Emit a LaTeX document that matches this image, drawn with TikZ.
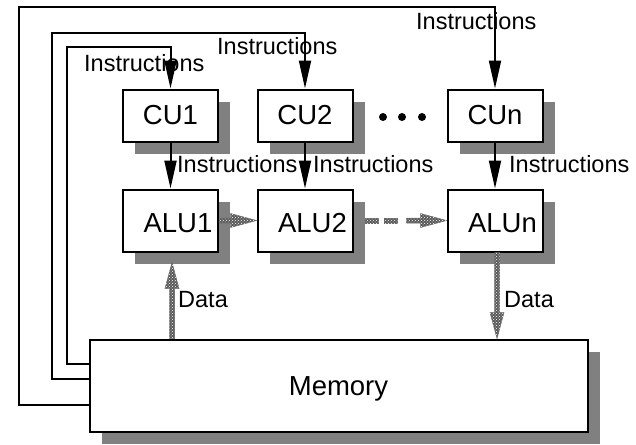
\documentclass[tikz,border=0pt]{standalone}
\usepackage{fontspec}
\setmainfont{Liberation Sans}
\usetikzlibrary{arrows.meta,calc,shadows,patterns}

% geometry of the grey data-path arrows
\newcommand\buswidth{2.5pt}
\newcommand\busheadw{7pt}
\newcommand\busheadl{26pt}

\tikzset{
  unit/.style={draw, line width=2pt, fill=white, minimum width=95pt, inner sep=0pt,
    font=\fontsize{27.5}{30}\selectfont,
    drop shadow={shadow xshift=12pt, shadow yshift=-12pt, fill=black!50, opacity=1}},
  cubox/.style={unit, minimum height=52pt},
  alubox/.style={unit, minimum height=62pt},
  lbl/.style={anchor=base west, inner sep=0pt, font=\fontsize{23.5}{26}\selectfont},
  ctl/.style={line width=2pt, -{Triangle[length=28pt,width=12pt]}},
  busfill/.style={fill=black!65, draw=black!60, line width=0.5pt,
    postaction={pattern=crosshatch dots, pattern color=white}},
  ellipsisdot/.style={circle, fill=black, inner sep=0pt, minimum size=8pt},
}

% wide stippled arrow from #1 to the tip #2
\newcommand\busarrow[2]{%
  \coordinate (bushd) at ($(#2)!\busheadl!(#1)$);
  \path[busfill] ($(#1)!\buswidth!90:(#2)$) -- ($(bushd)!\buswidth!90:(#2)$)
    -- ($(bushd)!\busheadw!90:(#2)$) -- (#2) -- ($(bushd)!\busheadw!-90:(#2)$)
    -- ($(bushd)!\buswidth!-90:(#2)$) -- ($(#1)!\buswidth!-90:(#2)$) -- cycle;}

\begin{document}
\begin{tikzpicture}[x=1pt,y=-1pt]
\useasboundingbox (0,0) rectangle (636,444);

% control units
\node[cubox] (cu1) at (170.5,115.5) {CU1\hspace{10pt}};
\node[cubox] (cu2) at (305,115.5) {CU2\hspace{10pt}};
\node[cubox] (cun) at (495,115.5) {CUn\hspace{8pt}};

% arithmetic units
\node[alubox] (alu1) at (170.5,220.5) {\hspace{15pt}\raisebox{-3pt}[\height][\depth]{ALU1}};
\node[alubox] (alu2) at (305,220.5) {\hspace{15pt}\raisebox{-3pt}[\height][\depth]{ALU2}};
\node[alubox] (alun) at (495,220.5) {\hspace{15pt}\raisebox{-3pt}[\height][\depth]{ALUn}};

% shared memory
\node[unit, minimum width=498pt, minimum height=92pt] (mem) at (338.5,385.5)
  {\raisebox{-3pt}[\height][\depth]{Memory}\hspace{18pt}};

% ellipsis between CU2 and CUn
\node[ellipsisdot] (dot1) at (383,117) {};
\node[ellipsisdot] (dot2) at (402,117) {};
\node[ellipsisdot] (dot3) at (422,117) {};

% labels
\node[lbl] (ins1) at (84,71) {Instructions};
\node[lbl] (ins2) at (217,55) {Instructions};
\node[lbl] (ins3) at (416,30) {Instructions};
\node[lbl] (ins4) at (177,172) {Instructions};
\node[lbl] (ins5) at (313,172) {Instructions};
\node[lbl] (ins6) at (509,172) {Instructions};
\node[lbl] (dat1) at (178,307) {Data};
\node[lbl] (dat2) at (504,307) {Data};

% instruction streams from memory to the control units
\draw[ctl] ($(mem.west)+(0,19.5)$) -| (19,7) -| (cun.north);
\draw[ctl] ($(mem.west)+(0,-6.5)$) -| (52,33) -| (cu2.north);
\draw[ctl] ($(mem.west)+(0,-21.5)$) -| (67,47) -| (cu1.north);

% control units drive their ALUs
\draw[ctl] (cu1) -- (alu1);
\draw[ctl] (cu2) -- (alu2);
\draw[ctl] (cun) -- (alun);

% data paths
\busarrow{alu1.east}{alu2.west}
\path[busfill] ($(alu2.east)+(12,-2.5)$) rectangle ($(alu2.east)+(25,2.5)$);
\path[busfill] ($(alu2.east)+(31,-2.5)$) rectangle ($(alu2.east)+(44,2.5)$);
\coordinate (dashend) at ($(alu2.east)+(53,0)$);
\busarrow{dashend}{alun.west}

\coordinate (d1) at ($(alu1.south)+(1.5,10)$);
\coordinate (d1s) at (d1 |- mem.north);
\busarrow{d1s}{d1}

\coordinate (d2s) at ($(alun.south)+(2,0)$);
\coordinate (d2) at (d2s |- mem.north);
\busarrow{d2s}{d2}
\end{tikzpicture}
\end{document}
